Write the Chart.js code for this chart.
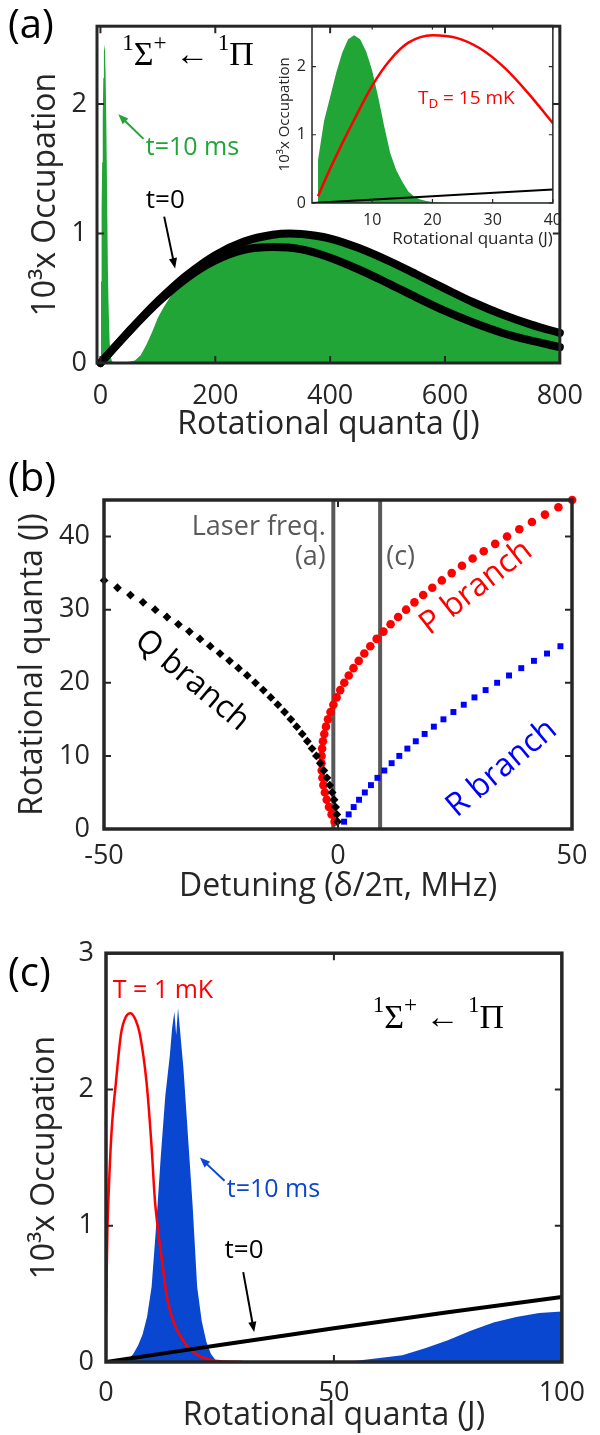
<!DOCTYPE html>
<html>
<head>
<meta charset="utf-8">
<script src="https://cdn.jsdelivr.net/npm/chart.js@4.4.1/dist/chart.umd.min.js"></script>
<style>
  html, body { margin: 0; padding: 0; background: #fff; }
  #page { position: relative; width: 600px; height: 1435px; overflow: hidden; }
  canvas { position: absolute; left: 0; }
</style>
</head>
<body>
<div id="page">
  <canvas id="chartA" width="600" height="465" style="top:0"></canvas>
  <canvas id="chartInset" width="310" height="245" style="left:260px;top:10px"></canvas>
  <canvas id="chartB" width="600" height="475" style="top:455px"></canvas>
  <canvas id="chartC" width="600" height="510" style="top:925px"></canvas>
</div>
<script>
// ================= DATA: panel (a) =================
// thermal distribution at t=0 (10^3 x occupation vs J)
const tZeroJ   = [0, 20, 25, 40, 50, 75, 100, 125, 150, 200, 250, 300, 330, 375, 400, 450, 500, 550, 600, 650, 700, 750, 800];
const tZeroOcc = [0, 0.10, 0.125, 0.198, 0.247, 0.365, 0.477, 0.581, 0.676, 0.832, 0.937, 0.99, 1.0, 0.982, 0.96, 0.887, 0.792, 0.685, 0.574, 0.467, 0.374, 0.296, 0.232];
// second black curve
const lowerJ   = [0, 50, 100, 150, 200, 250, 300, 350, 400, 450, 500, 550, 600, 650, 700, 750, 800];
const lowerOcc = [0, 0.244, 0.468, 0.655, 0.792, 0.874, 0.895, 0.877, 0.813, 0.722, 0.617, 0.507, 0.402, 0.31, 0.232, 0.172, 0.123];
// t = 10 ms, laser at (a)
const greenJ   = [1, 2, 3, 4, 5, 6, 7, 8, 9, 10, 11, 12, 13, 14, 15, 16, 17, 18, 19, 20, 22, 25, 30, 40, 50, 60, 70, 80, 90, 100, 110, 120, 130, 140, 150, 175, 200, 250, 300, 350, 400, 450, 500, 550, 600, 650, 700, 750, 800];
const greenOcc = [0.63, 1.2, 1.55, 1.9, 2.2, 2.4, 2.46, 2.4, 2.22, 1.94, 1.55, 1.12, 0.73, 0.48, 0.31, 0.17, 0.09, 0.05, 0.03, 0.015, 0.005, 0.002, 0.003, 0.005, 0.01, 0.02, 0.06, 0.14, 0.24, 0.35, 0.43, 0.5, 0.56, 0.6, 0.64, 0.74, 0.81, 0.92, 0.975, 0.98, 0.945, 0.875, 0.78, 0.675, 0.565, 0.46, 0.362, 0.282, 0.21];
// inset: T_D = 15 mK
const dopplerJ   = [1, 3, 5, 7, 10, 13, 16, 20, 24, 28, 32, 36, 40];
const dopplerOcc = [0.1, 0.5, 0.87, 1.22, 1.72, 2.1, 2.35, 2.46, 2.42, 2.26, 1.98, 1.6, 1.17];

const ticksAx = [0, 200, 400, 600, 800];
const ticksAy = [0, 1, 2];
const ticksInsetX = [10, 20, 30, 40];
const ticksInsetY = [0, 1, 2];

// ================= DATA: panel (b) =================
const qJ   = [1, 2, 3, 4, 5, 6, 7, 8, 9, 10, 11, 12, 13, 14, 15, 16, 17, 18, 19, 20, 21, 22, 23, 24, 25, 26, 27, 28, 29, 30, 31, 32, 33, 34];
const qDet = [-0.08, -0.25, -0.5, -0.84, -1.26, -1.76, -2.35, -3.02, -3.78, -4.62, -5.54, -6.55, -7.64, -8.82, -10.08, -11.42, -12.85, -14.36, -15.96, -17.64, -19.4, -21.25, -23.18, -25.2, -27.3, -29.48, -31.75, -34.1, -36.54, -39.06, -41.66, -44.35, -47.12, -49.98];
const pJ   = [1, 2, 3, 4, 5, 6, 7, 8, 9, 10, 11, 12, 13, 14, 15, 16, 17, 18, 19, 20, 21, 22, 23, 24, 25, 26, 27, 28, 29, 30, 31, 32, 33, 34, 35, 36, 37, 38, 39, 40, 41, 42, 43, 44, 45];
const pDet = [-0.73, -1.37, -1.93, -2.41, -2.8, -3.11, -3.33, -3.48, -3.54, -3.51, -3.4, -3.21, -2.93, -2.57, -2.13, -1.6, -0.99, -0.3, 0.48, 1.34, 2.29, 3.31, 4.43, 5.62, 6.9, 8.26, 9.71, 11.24, 12.85, 14.55, 16.33, 18.2, 20.15, 22.18, 24.29, 26.49, 28.77, 31.14, 33.59, 36.12, 38.74, 41.44, 44.22, 47.09, 50.04];
const rJ   = [1, 2, 3, 4, 5, 6, 7, 8, 9, 10, 11, 12, 13, 14, 15, 16, 17, 18, 19, 20, 21, 22, 23, 24, 25];
const rDet = [1.3, 2.28, 3.35, 4.5, 5.73, 7.04, 8.43, 9.9, 11.46, 13.1, 14.82, 16.62, 18.51, 20.48, 22.53, 24.66, 26.87, 29.16, 31.54, 34.0, 36.54, 39.16, 41.87, 44.66, 47.53];
const laserDet = [-1, 9];   // laser frequencies used in (a) and (c)
const ticksBx = [-50, 0, 50];
const ticksBy = [0, 10, 20, 30, 40];

// ================= DATA: panel (c) =================
const coldJ   = [0, 0.3, 0.6, 1.2, 2.2, 3.3, 4.3, 5.4, 6.5, 7.4, 8.9, 10, 10.7, 11.3, 12.3, 13.4, 15, 16.7, 18.5, 20.8, 23, 25, 30];
const coldOcc = [0.34, 0.95, 1.25, 1.68, 2.06, 2.41, 2.53, 2.56, 2.51, 2.41, 2.05, 1.58, 1.2, 1.0, 0.74, 0.47, 0.28, 0.17, 0.09, 0.04, 0.015, 0.005, 0];
const blueJ   = [4, 5, 6, 7, 8, 9, 10, 11, 12, 13, 14, 14.5, 15, 15.4, 15.8, 16.2, 17, 18, 19, 20, 21, 22, 23, 24, 25, 50, 55, 60, 65, 70, 75, 80, 85, 90, 95, 100];
const blueOcc = [0, 0.02, 0.06, 0.12, 0.2, 0.33, 0.55, 1.0, 1.5, 1.95, 2.25, 2.45, 2.57, 2.4, 2.6, 2.45, 2.15, 1.65, 1.15, 0.55, 0.3, 0.15, 0.06, 0.015, 0, 0, 0.01, 0.03, 0.05, 0.1, 0.16, 0.23, 0.29, 0.33, 0.36, 0.37];
const ticksCx = [0, 50, 100];
const ticksCy = [0, 1, 2, 3];

// ================= HELPERS =================
const INK = '#262626';
const SANS = '"Open Sans", "Noto Sans", sans-serif';
const SERIF = '"Liberation Serif", "DejaVu Serif", serif';
const GREEN = '#22a537', BLUE = '#0a47d1', RED = '#ff0000', GRAY = '#595959';

const pts = (xs, ys) => xs.map((x, i) => ({ x: x, y: ys[i] }));
const sigmaPi = [['1', 0.68, -0.36], ['Σ', 1, 0], ['+', 0.68, -0.36], [' ← ', 1, 0], ['1', 0.68, -0.36], ['Π', 1, 0]];

function axis(opts) {
  return {
    type: 'linear',
    min: opts.min, max: opts.max,
    grid: { display: false, drawTicks: false },
    border: { display: false },
    afterBuildTicks: s => { s.ticks = opts.ticks.map(v => ({ value: v })); },
    afterFit: s => { if (opts.width) s.width = opts.width; if (opts.height) s.height = opts.height; },
    ticks: { font: { family: SANS, size: opts.tickSize || 27 }, color: INK, padding: opts.pad, maxRotation: 0, autoSkip: false },
    title: { display: true, text: opts.title, align: opts.titleAlign || 'center', color: INK, font: { family: SANS, size: opts.titleSize || 32 }, padding: opts.titlePad }
  };
}

// box + inward ticks on all four sides (MATLAB style)
const frame = {
  id: 'frame',
  afterDatasetsDraw(chart, args, o) {
    const { ctx, chartArea: a, scales } = chart;
    const L = o.tick || 7;
    ctx.save();
    ctx.strokeStyle = INK;
    ctx.lineWidth = o.tickWidth || 2;
    ctx.beginPath();
    scales.x.ticks.forEach(t => {
      const p = scales.x.getPixelForValue(t.value);
      ctx.moveTo(p, a.bottom); ctx.lineTo(p, a.bottom - L);
      ctx.moveTo(p, a.top); ctx.lineTo(p, a.top + L);
    });
    scales.y.ticks.forEach(t => {
      const p = scales.y.getPixelForValue(t.value);
      ctx.moveTo(a.left, p); ctx.lineTo(a.left + L, p);
      ctx.moveTo(a.right, p); ctx.lineTo(a.right - L, p);
    });
    ctx.stroke();
    ctx.lineWidth = o.width || 3;
    ctx.strokeRect(a.left, a.top, a.right - a.left, a.bottom - a.top);
    ctx.restore();
  }
};

function drawParts(ctx, x, y, parts, size, family, align) {
  let w = 0;
  parts.forEach(([t, k]) => { ctx.font = `${size * k}px ${family}`; w += ctx.measureText(t).width; });
  let cx = align === 'center' ? x - w / 2 : align === 'right' ? x - w : x;
  parts.forEach(([t, k, dy]) => {
    ctx.font = `${size * k}px ${family}`;
    ctx.fillText(t, cx, y + dy * size);
    cx += ctx.measureText(t).width;
  });
}

// text labels and arrows, placed in data coordinates (or canvas px for panel letters)
const notes = {
  id: 'notes',
  afterDraw(chart, args, o) {
    const { ctx, scales } = chart;
    const px = v => scales.x.getPixelForValue(v), py = v => scales.y.getPixelForValue(v);
    ctx.save();
    ctx.textBaseline = 'middle';
    (o.items || []).forEach(it => {
      ctx.fillStyle = ctx.strokeStyle = it.color || '#000';
      if (it.arrow) {
        const x1 = px(it.arrow[0]), y1 = py(it.arrow[1]), x2 = px(it.arrow[2]), y2 = py(it.arrow[3]);
        const ang = Math.atan2(y2 - y1, x2 - x1), h = it.head || 11;
        ctx.lineWidth = it.width || 2;
        ctx.beginPath();
        ctx.moveTo(x1, y1);
        ctx.lineTo(x2 - Math.cos(ang) * h * 0.7, y2 - Math.sin(ang) * h * 0.7);
        ctx.stroke();
        ctx.beginPath();
        ctx.moveTo(x2, y2);
        ctx.lineTo(x2 - h * Math.cos(ang - 0.38), y2 - h * Math.sin(ang - 0.38));
        ctx.lineTo(x2 - h * Math.cos(ang + 0.38), y2 - h * Math.sin(ang + 0.38));
        ctx.closePath();
        ctx.fill();
        return;
      }
      const x = it.px ? it.px[0] : px(it.at[0]);
      const y = it.px ? it.px[1] : py(it.at[1]);
      const parts = it.parts || [[it.text, 1, 0]];
      ctx.save();
      ctx.translate(x, y);
      if (it.rot) ctx.rotate(it.rot * Math.PI / 180);
      drawParts(ctx, 0, 0, parts, it.size, it.family || SANS, it.align || 'left');
      ctx.restore();
    });
    ctx.restore();
  }
};

const base = {
  responsive: false,
  animation: false,
  events: [],
  devicePixelRatio: 1,
  plugins: { legend: { display: false }, tooltip: { enabled: false } }
};

// ================= PANEL (a) =================
new Chart(document.getElementById('chartA'), {
  type: 'line',
  data: {
    datasets: [
      { data: pts(tZeroJ, tZeroOcc), borderColor: '#000', borderWidth: 8, borderCapStyle: 'round', borderJoinStyle: 'round', pointRadius: 0, cubicInterpolationMode: 'monotone', order: 0, clip: false },
      { data: pts(lowerJ, lowerOcc), borderColor: '#000', borderWidth: 8, borderCapStyle: 'round', borderJoinStyle: 'round', pointRadius: 0, cubicInterpolationMode: 'monotone', order: 0, clip: false },
      { data: pts(greenJ, greenOcc), borderWidth: 0, borderColor: GREEN, backgroundColor: GREEN, fill: 'origin', pointRadius: 0, order: 1 }
    ]
  },
  options: Object.assign({}, base, {
    layout: { padding: { left: 0, top: 15, right: 27, bottom: 0 } },
    scales: {
      x: axis({ min: -6, max: 800, ticks: ticksAx, height: 102, pad: 17, title: 'Rotational quanta (J)', titlePad: { top: 0, bottom: 21 } }),
      y: axis({ min: 0, max: 2.6, ticks: ticksAy, width: 97, pad: 10, title: '10³x Occupation', titlePad: { top: 27, bottom: 0 } })
    },
    plugins: Object.assign({}, base.plugins, {
      frame: { width: 3 },
      notes: { items: [
        { px: [8, 27], text: '(a)', size: 40, color: '#000' },
        { at: [38, 2.37], parts: sigmaPi, size: 34, family: SERIF, color: '#000' },
        { at: [79, 1.66], text: 't=10 ms', size: 25, color: GREEN },
        { arrow: [75, 1.73, 31, 1.92], color: GREEN, width: 2 },
        { at: [113, 1.25], text: 't=0', size: 26, color: '#000', align: 'center' },
        { arrow: [111, 1.13, 130, 0.73], color: '#000', width: 2 }
      ] }
    })
  }),
  plugins: [frame, notes]
});

// ================= INSET of (a) =================
new Chart(document.getElementById('chartInset'), {
  type: 'line',
  data: {
    datasets: [
      { data: pts(tZeroJ, tZeroOcc), borderColor: '#000', borderWidth: 2, pointRadius: 0, order: 0 },
      { data: pts(dopplerJ, dopplerOcc), borderColor: RED, borderWidth: 2.5, pointRadius: 0, cubicInterpolationMode: 'monotone', order: 0 },
      { data: pts(greenJ, greenOcc), borderWidth: 0, backgroundColor: GREEN, fill: 'origin', pointRadius: 0, order: 1 }
    ]
  },
  options: Object.assign({}, base, {
    layout: { padding: { left: 0, top: 15, right: 12, bottom: 0 } },
    scales: {
      x: axis({ min: 0, max: 40, ticks: ticksInsetX, height: 52, pad: 8, tickSize: 16, titleSize: 17, titleAlign: 'end', title: 'Rotational quanta (J)', titlePad: { top: 0, bottom: 6 } }),
      y: axis({ min: 0, max: 2.6, ticks: ticksInsetY, width: 52, pad: 6, tickSize: 16, titleSize: 15, title: '10³x Occupation', titlePad: { top: 16, bottom: 0 } })
    },
    plugins: Object.assign({}, base.plugins, {
      frame: { width: 1.5, tick: 4, tickWidth: 1.2 },
      notes: { items: [
        { at: [17.6, 1.53], parts: [['T', 1, 0], ['D', 0.7, 0.3], [' = 15 mK', 1, 0]], size: 19, color: RED }
      ] }
    })
  }),
  plugins: [frame, notes]
});

// ================= PANEL (b) =================
new Chart(document.getElementById('chartB'), {
  type: 'scatter',
  data: {
    datasets: [
      { data: pts(qDet, qJ), pointStyle: 'rectRot', pointRadius: 4.4, backgroundColor: '#000', borderColor: '#000', borderWidth: 0, clip: false, order: 0 },
      { data: pts(pDet, pJ), pointStyle: 'circle', pointRadius: 4.3, backgroundColor: RED, borderColor: RED, borderWidth: 0, clip: false, order: 0 },
      { data: pts(rDet, rJ), pointStyle: 'rect', pointRadius: 4.2, backgroundColor: '#0000ff', borderColor: '#0000ff', borderWidth: 0, clip: false, order: 0 },
      { data: pts([laserDet[0], laserDet[0]], [0, 45]), showLine: true, borderColor: GRAY, borderWidth: 4, pointRadius: 0, order: 1 },
      { data: pts([laserDet[1], laserDet[1]], [0, 45]), showLine: true, borderColor: GRAY, borderWidth: 4, pointRadius: 0, order: 1 }
    ]
  },
  options: Object.assign({}, base, {
    layout: { padding: { left: 0, top: 45, right: 28, bottom: 0 } },
    scales: {
      x: axis({ min: -50, max: 50, ticks: ticksBx, height: 101, pad: 11, title: 'Detuning (δ/2π, MHz)', titlePad: { top: 0, bottom: 24 } }),
      y: axis({ min: 0, max: 45, ticks: ticksBy, width: 104, pad: 14, title: 'Rotational quanta (J)', titlePad: { top: 14, bottom: 0 } })
    },
    plugins: Object.assign({}, base.plugins, {
      frame: { width: 3.5 },
      notes: { items: [
        { px: [8, 25], text: '(b)', size: 40, color: '#000' },
        { at: [-2.6, 41.3], text: 'Laser freq.', size: 27, color: GRAY, align: 'right' },
        { at: [-2.6, 37.2], text: '(a)', size: 27, color: GRAY, align: 'right' },
        { at: [10.3, 37.2], text: '(c)', size: 27, color: GRAY },
        { at: [-31.2, 20.3], text: 'Q branch', size: 32, color: '#000', align: 'center', rot: 40 },
        { at: [29.5, 33], text: 'P branch', size: 32, color: RED, align: 'center', rot: -38 },
        { at: [35, 8.3], text: 'R branch', size: 32, color: '#0000ff', align: 'center', rot: -40 }
      ] }
    })
  }),
  plugins: [frame, notes]
});

// ================= PANEL (c) =================
new Chart(document.getElementById('chartC'), {
  type: 'line',
  data: {
    datasets: [
      { data: pts(tZeroJ, tZeroOcc), borderColor: '#000', borderWidth: 4, pointRadius: 0, order: 0 },
      { data: pts(coldJ, coldOcc), borderColor: RED, borderWidth: 2.5, pointRadius: 0, cubicInterpolationMode: 'monotone', order: 0 },
      { data: pts(blueJ, blueOcc), borderWidth: 0, backgroundColor: BLUE, fill: 'origin', pointRadius: 0, order: 1 }
    ]
  },
  options: Object.assign({}, base, {
    layout: { padding: { left: 0, top: 28, right: 29, bottom: 0 } },
    scales: {
      x: axis({ min: 0, max: 100, ticks: ticksCx, height: 73, pad: 15, title: 'Rotational quanta (J)', titlePad: { top: 0, bottom: 0 } }),
      y: axis({ min: 0, max: 3, ticks: ticksCy, width: 106, pad: 12, title: '10³x Occupation', titlePad: { top: 26, bottom: 0 } })
    },
    plugins: Object.assign({}, base.plugins, {
      frame: { width: 3.5 },
      notes: { items: [
        { px: [8, 50], text: '(c)', size: 40, color: '#000' },
        { at: [1.5, 2.72], text: 'T = 1 mK', size: 25, color: RED },
        { at: [58.5, 2.52], parts: sigmaPi, size: 34, family: SERIF, color: '#000' },
        { at: [26.5, 1.26], text: 't=10 ms', size: 25, color: BLUE },
        { arrow: [26, 1.33, 20.6, 1.5], color: BLUE, width: 2 },
        { at: [26, 0.82], text: 't=0', size: 26, color: '#000' },
        { arrow: [30.1, 0.66, 32.5, 0.22], color: '#000', width: 2 }
      ] }
    })
  }),
  plugins: [frame, notes]
});
</script>
</body>
</html>
